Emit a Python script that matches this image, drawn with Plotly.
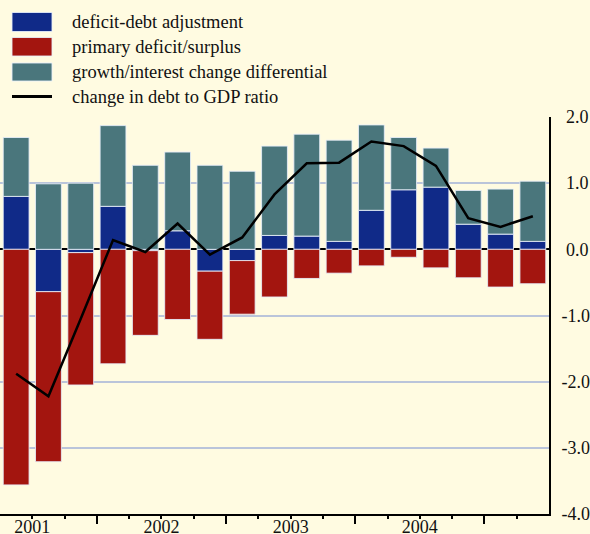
import plotly.graph_objects as go


# quarters 2001 Q2 .. 2005 Q2, one bar each
quarters = list(range(17))

deficit_debt_adj = [0.80, -0.64, -0.05, 0.65, -0.02, 0.28, -0.33, -0.17, 0.21,
                    0.20, 0.12, 0.59, 0.90, 0.94, 0.38, 0.23, 0.12]
primary_deficit = [-3.56, -2.57, -2.00, -1.73, -1.28, -1.06, -1.03, -0.81, -0.72,
                   -0.44, -0.36, -0.25, -0.12, -0.28, -0.43, -0.57, -0.52]
growth_interest = [0.89, 0.99, 1.00, 1.22, 1.27, 1.19, 1.27, 1.18, 1.35,
                   1.54, 1.53, 1.29, 0.79, 0.59, 0.51, 0.68, 0.91]
debt_gdp_change = [-1.88, -2.22, -1.05, 0.14, -0.04, 0.39, -0.08, 0.18, 0.83,
                   1.30, 1.31, 1.63, 1.56, 1.26, 0.47, 0.34, 0.50]

year_labels = ["2001", "2002", "2003", "2004"]
year_label_pos = [0.5, 4.5, 8.5, 12.5]
year_break_pos = [2.5, 6.5, 10.5, 14.5]
quarter_break_pos = [i + 0.5 for i in range(16)]

y_tickvals = [2, 1, 0, -1, -2, -3, -4]
y_ticktext = ["\u00a02.0", "\u00a01.0", "\u00a00.0", "-1.0", "-2.0", "-3.0", "-4.0"]

series_names = ["deficit-debt adjustment", "primary deficit/surplus",
                "growth/interest change differential", "change in debt to GDP ratio"]

BLUE = "#102a88"
RED = "#a3150f"
TEAL = "#4a767c"
BG = "#fffbe1"
GRID = "#bac4da"
FONT = "Liberation Serif, Times New Roman, serif"
OUTLINE = "rgba(232,238,250,0.85)"

W, H = 590, 534
M_L, M_R, M_T, M_B = 0, 41, 117, 20
PW, PH = W - M_L - M_R, H - M_T - M_B


def px_x(p):
    return (p - M_L) / PW


def px_y(p):
    return (H - M_B - p) / PH


fig = go.Figure()
for vals, color, name in zip([deficit_debt_adj, primary_deficit, growth_interest],
                             [BLUE, RED, TEAL], series_names[:3]):
    fig.add_trace(go.Bar(x=quarters, y=vals, name=name, marker_color=color,
                         marker_line=dict(color=OUTLINE, width=1),
                         showlegend=False))

# the line sits on the overlaid x axis (same range) so that axis gets drawn
fig.add_trace(go.Scatter(x=quarters, y=debt_gdp_change, name=series_names[3],
                         xaxis="x2", mode="lines", line=dict(color="black", width=2.5),
                         showlegend=False))

# hand-made legend (wide swatches like the original)
swatch_rows = [(12.5, 31.5), (37.5, 56), (63, 81)]
for (y0, y1), color in zip(swatch_rows, [BLUE, RED, TEAL]):
    fig.add_shape(type="rect", xref="paper", yref="paper",
                  x0=px_x(12), x1=px_x(52), y0=px_y(y1), y1=px_y(y0),
                  fillcolor=color, line=dict(color=OUTLINE, width=1))
fig.add_shape(type="line", xref="paper", yref="paper",
              x0=px_x(12), x1=px_x(52), y0=px_y(96.5), y1=px_y(96.5),
              line=dict(color="black", width=3))
for name, yc in zip(series_names, [22, 47, 72, 97]):
    fig.add_annotation(text=name, xref="paper", yref="paper",
                       x=px_x(70), y=px_y(yc), xanchor="left", yanchor="middle",
                       showarrow=False, font=dict(family=FONT, size=18.5, color="#111"))

fig.update_layout(
    width=W, height=H,
    margin=dict(l=M_L, r=M_R, t=M_T, b=M_B, pad=0),
    barmode="relative", bargap=0.2,
    paper_bgcolor=BG, plot_bgcolor=BG,
    font=dict(family=FONT, size=18, color="#111"),
    showlegend=False,
    # long ticks at year breaks, short minor ticks between quarters
    xaxis=dict(range=[-0.5, 16.5], tickmode="array", tickvals=year_break_pos,
               showticklabels=False,
               ticks="outside", ticklen=8, tickwidth=1.5, tickcolor="black",
               minor=dict(tickmode="array", tickvals=quarter_break_pos,
                          ticks="outside", ticklen=3, tickwidth=1.5, tickcolor="black"),
               showline=True, linecolor="black", linewidth=1.5,
               showgrid=False, zeroline=False, automargin=False, fixedrange=True),
    # year labels only
    xaxis2=dict(range=[-0.5, 16.5], overlaying="x", anchor="y", side="bottom",
                tickmode="array", tickvals=year_label_pos, ticktext=year_labels,
                ticks="", ticklabelstandoff=0,
                showline=False, showgrid=False, zeroline=False, automargin=False),
    yaxis=dict(range=[-4, 2], side="right", tickmode="array",
               tickvals=y_tickvals, ticktext=y_ticktext, ticks="",
               ticklabelstandoff=7,
               showline=True, linecolor="black", linewidth=2,
               showgrid=True, gridcolor=GRID, gridwidth=1.5,
               zeroline=True, zerolinecolor="black", zerolinewidth=2,
               automargin=False),
)

# drop the browser's default body margin so the chart sits at the page corner
fig.write_html("out.html", config={"displayModeBar": False},
               post_script="document.body.style.margin = '0';")
